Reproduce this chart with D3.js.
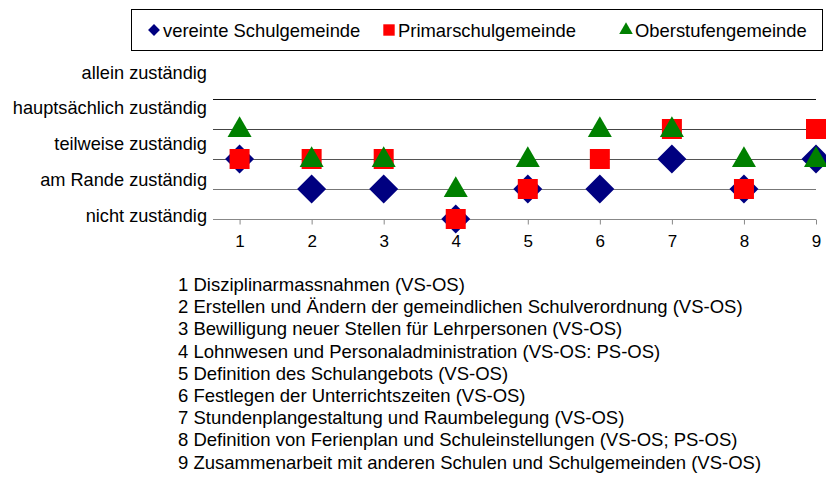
<!DOCTYPE html>
<html>
<head>
<meta charset="utf-8">
<script src="https://cdn.jsdelivr.net/npm/d3@7"></script>
<style>
body { margin: 0; background: #fff; }
svg { font-family: "Liberation Sans", Arial, sans-serif; }
</style>
</head>
<body>
<svg id="chart" width="826" height="479"></svg>
<script>
//data
var categories = [1, 2, 3, 4, 5, 6, 7, 8, 9];
var levelLabels = ['nicht zuständig', 'am Rande zuständig', 'teilweise zuständig', 'hauptsächlich zuständig', 'allein zuständig'];
var vereinte = [2, 1, 1, 0, 1, 1, 2, 1, 2];
var primar = [2, 2, 2, 0, 1, 2, 3, 1, 3];
var oberstufe = [3, 2, 2, 1, 2, 3, 3, 2, 2];
var seriesNames = ['vereinte Schulgemeinde', 'Primarschulgemeinde', 'Oberstufengemeinde'];
var itemLabels = [
	'1 Disziplinarmassnahmen (VS-OS)',
	'2 Erstellen und Ändern der gemeindlichen Schulverordnung (VS-OS)',
	'3 Bewilligung neuer Stellen für Lehrpersonen (VS-OS)',
	'4 Lohnwesen und Personaladministration (VS-OS: PS-OS)',
	'5 Definition des Schulangebots (VS-OS)',
	'6 Festlegen der Unterrichtszeiten (VS-OS)',
	'7 Stundenplangestaltung und Raumbelegung (VS-OS)',
	'8 Definition von Ferienplan und Schuleinstellungen (VS-OS; PS-OS)',
	'9 Zusammenarbeit mit anderen Schulen und Schulgemeinden (VS-OS)'
];

var svg = d3.select('#chart');
var fontSize = '18.2px';

//scales
var x = d3.scaleLinear().domain([0.631, 9]).range([213, 816]);
var y = d3.scaleLinear().domain([0, 4]).range([219, 99]);
var yLab = d3.scaleLinear().domain([0, 4]).range([221.5, 78.5]);
var listY = d3.scaleLinear().domain([0, 8]).range([291, 468.6]);

//gridlines
var gridColors = ['#888', '#777', '#555', '#444', '#111'];
svg.selectAll('.grid')
	.data([1, 2, 3, 4])
	.join('line')
	.attr('x1', x.range()[0])
	.attr('x2', x.range()[1])
	.attr('y1', d => y(d) + 0.5)
	.attr('y2', d => y(d) + 0.5)
	.style('stroke', d => gridColors[d])
	.style('stroke-width', 1);

//x axis
var xAxis = svg.append('g')
	.attr('transform', 'translate(0,' + (y(0) + 0.5) + ')')
	.call(d3.axisBottom(x).tickValues(categories).tickSize(5).tickPadding(10).tickFormat(d3.format('d')));
xAxis.select('.domain').style('stroke', gridColors[0]).attr('d', 'M' + x.range()[0] + ',0H' + x.range()[1]);
xAxis.selectAll('.tick line').style('stroke', gridColors[0]);
xAxis.selectAll('.tick text')
	.style('font-family', '"Liberation Sans", Arial, sans-serif')
	.style('font-size', '17px')
	.style('fill', '#000');

//level labels
svg.selectAll('.level')
	.data(levelLabels)
	.join('text')
	.classed('level', true)
	.attr('x', 207)
	.attr('y', (d, i) => yLab(i))
	.style('text-anchor', 'end')
	.style('font-size', fontSize)
	.text(d => d);

//markers
var diamond = d3.symbol().type(d3.symbolSquare).size(420);
var square = d3.symbol().type(d3.symbolSquare).size(400);
var triangle = d3.symbol().type(d3.symbolTriangle).size(250);

svg.selectAll('.vs')
	.data(vereinte)
	.join('path')
	.attr('d', diamond)
	.attr('transform', (d, i) => 'translate(' + x(categories[i]) + ',' + y(d) + ') rotate(45)')
	.style('fill', '#000080');

svg.selectAll('.ps')
	.data(primar)
	.join('path')
	.attr('d', square)
	.attr('transform', (d, i) => 'translate(' + x(categories[i]) + ',' + y(d) + ')')
	.style('fill', '#ff0000');

svg.selectAll('.os')
	.data(oberstufe)
	.join('path')
	.attr('d', triangle)
	.attr('transform', (d, i) => 'translate(' + x(categories[i]) + ',' + (y(d) + 1) + ')')
	.style('fill', '#008000');

//legend
svg.append('rect')
	.attr('x', 131.5)
	.attr('y', 9.5)
	.attr('width', 691)
	.attr('height', 41)
	.style('fill', 'white')
	.style('stroke', 'black');

var legendX = [154, 389, 626];
var legendSymbols = [
	d3.symbol().type(d3.symbolSquare).size(70),
	d3.symbol().type(d3.symbolSquare).size(130),
	d3.symbol().type(d3.symbolTriangle).size(80)
];
var legendColors = ['#000080', '#ff0000', '#008000'];
var legendRot = [45, 0, 0];

var lg = svg.selectAll('.leg')
	.data(seriesNames)
	.join('g')
	.attr('transform', (d, i) => 'translate(' + legendX[i] + ',30)');
lg.append('path')
	.attr('d', (d, i) => legendSymbols[i]())
	.attr('transform', (d, i) => 'rotate(' + legendRot[i] + ')')
	.style('fill', (d, i) => legendColors[i]);
lg.append('text')
	.attr('x', 9)
	.attr('y', 6.5)
	.style('font-size', '18.4px')
	.text(d => d);

//item list
svg.selectAll('.item')
	.data(itemLabels)
	.join('text')
	.attr('x', 178)
	.attr('y', (d, i) => listY(i))
	.style('font-size', '18.5px')
	.text(d => d);
</script>
</body>
</html>
